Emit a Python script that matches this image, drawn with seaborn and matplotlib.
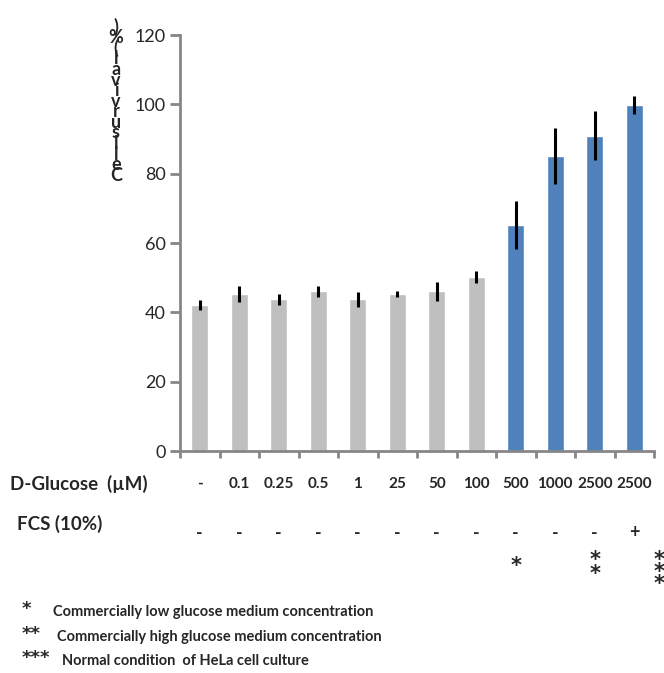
import numpy as np
import pandas as pd
import matplotlib
matplotlib.use("Agg")
import matplotlib.pyplot as plt
import matplotlib.transforms as mtransforms
import seaborn as sns

glucose = ["-", "0.1", "0.25", "0.5", "1", "25", "50", "100", "500", "1000", "2500", "2500"]
fcs = ["-", "-", "-", "-", "-", "-", "-", "-", "-", "-", "-", "+"]
viability = [42.1, 45.3, 43.8, 46.1, 43.8, 45.3, 46.1, 50.1, 65.2, 85.1, 90.9, 99.8]
errors = [1.45, 2.2, 1.55, 1.55, 2.2, 0.95, 2.7, 1.7, 6.8, 8.0, 7.1, 2.6]
stars = ["", "", "", "", "", "", "", "", "*", "", "**", "***"]
group = ["low"] * 8 + ["high"] * 4
yticks = [0, 20, 40, 60, 80, 100, 120]
ylabel = "Cell survival (%)"
footnotes = [("*", "Commercially low glucose medium concentration"),
             ("**", "Commercially high glucose medium concentration"),
             ("***", "Normal condition  of HeLa cell culture")]

sns.set_style("white")
plt.rcParams["font.family"] = ["Lato", "DejaVu Sans"]

W, H = 664, 673
fig = plt.figure(figsize=(W / 100, H / 100), dpi=100)
ax = fig.add_axes([180 / W, 1 - 451 / H, (654 - 180) / W, (451 - 35) / H])

df = pd.DataFrame({"pos": list(range(len(viability))), "val": viability, "grp": group})
sns.barplot(data=df, x="pos", y="val", hue="grp", palette={"low": "#BFBFBF", "high": "#4F81BD"},
            width=0.42, dodge=False, legend=False, ax=ax, saturation=1)
ax.errorbar(df["pos"], df["val"], yerr=errors, fmt="none", ecolor="black", elinewidth=2.2, capsize=0)

axcol = "#868686"
ax.set_xlim(-0.5, len(viability) - 0.5)
ax.set_ylim(0, 120)
ax.set_yticks(yticks)
ax.set_yticklabels([str(v) for v in yticks], fontsize=13)
ax.set_xticks(np.arange(-0.5, len(viability), 1))
ax.set_xticklabels([])
ax.set_xlabel("")
ax.set_ylabel("")
for s in ["top", "right"]:
    ax.spines[s].set_visible(False)
for s in ["left", "bottom"]:
    ax.spines[s].set_color(axcol)
    ax.spines[s].set_linewidth(2)
ax.tick_params(axis="y", direction="out", length=7, width=2, color=axcol, pad=3, left=True)
ax.tick_params(axis="x", direction="out", length=5, width=2, color=axcol, bottom=True)

trans = mtransforms.blended_transform_factory(ax.transData, fig.transFigure)
for i in range(len(viability)):
    ax.text(i, 1 - 484 / H, glucose[i], transform=trans, ha="center", va="center",
            fontsize=11, fontweight="bold", clip_on=False)
    ax.text(i, 1 - 533 / H, fcs[i], transform=trans, ha="center", va="center",
            fontsize=13, fontweight="bold", clip_on=False)
    st = stars[i]
    if st:
        n = len(st)
        xoff = 0 if n < 3 else 0.62
        for k in range(n):
            if n == 1:
                yy = 566
            elif n == 2:
                yy = 560 + 14 * k
            else:
                yy = 560 + 12 * k
            ax.text(i + xoff, 1 - yy / H, "*", transform=trans, ha="center", va="center",
                    fontsize=15, fontweight="bold", clip_on=False, family=["DejaVu Sans"])

fig.text(10 / W, 1 - 484 / H, "D-Glucose  (µM)", ha="left", va="center", fontsize=13.5, fontweight="bold")
fig.text(17 / W, 1 - 524 / H, "FCS (10%)", ha="left", va="center", fontsize=13.5, fontweight="bold")

# stacked y label
chars = [c for c in ylabel if c != " "][::-1]
for k, c in enumerate(chars):
    fig.text(116 / W, 1 - (27 + k * 10.6) / H, c, ha="center", va="center",
             fontsize=13, fontweight="bold")

fy = [612, 637, 661]
fx = [53, 57, 62]
for (sym, txt), y, x in zip(footnotes, fy, fx):
    fig.text(22 / W, 1 - (y - 3) / H, sym, ha="left", va="center", fontsize=13,
             fontweight="bold", family=["DejaVu Sans"])
    fig.text(x / W, 1 - y / H, txt, ha="left", va="center", fontsize=10.5, fontweight="bold")

fig.savefig("out.png", dpi=100)
